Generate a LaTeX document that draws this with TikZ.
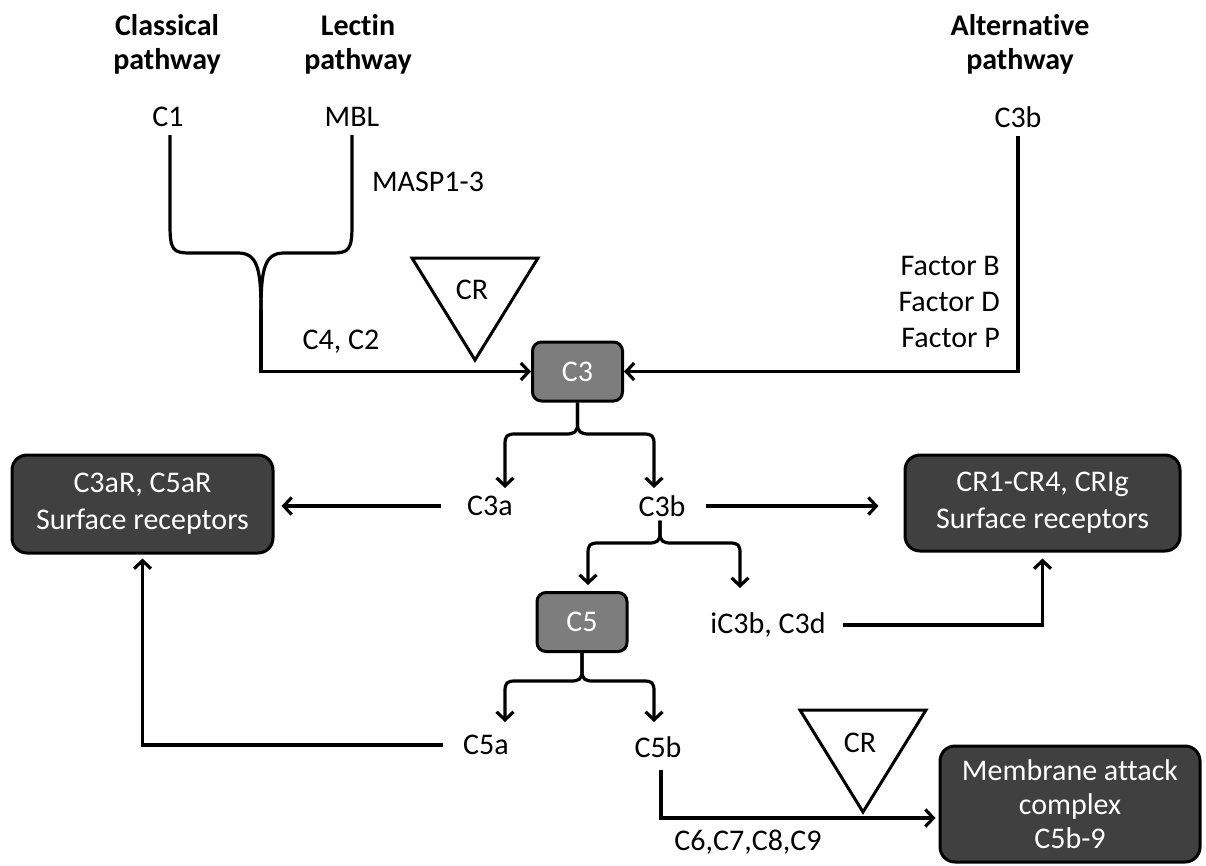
\documentclass[tikz,border=0pt]{standalone}
\usepackage{fontspec}
\setmainfont{Carlito}[Ligatures=NoCommon]
\usetikzlibrary{arrows.meta}
\definecolor{boxgray}{RGB}{125,125,125}
\definecolor{boxdark}{RGB}{64,64,64}
\begin{document}
\begin{tikzpicture}[x=1pt,y=-1pt,
  lbl/.style={font=\fontsize{30}{36}\selectfont, inner sep=0pt, align=center},
  ttl/.style={font=\fontsize{30}{34}\selectfont\bfseries, inner sep=0pt, align=center},
  smallbox/.style={draw=black, line width=3pt, fill=boxgray, rounded corners=9pt,
    minimum width=90pt, minimum height=59pt, text=white, inner sep=0pt,
    font=\fontsize{30}{36}\selectfont},
  bigbox/.style={draw=black, line width=3pt, fill=boxdark, rounded corners=15pt,
    text=white, font=\fontsize{30}{37}\selectfont, align=center, inner sep=0pt},
  conn/.style={line width=3.2pt},
  arr/.style={line width=3.2pt, -{Straight Barb[length=8pt,width=17pt]}},
  crtri/.style={line width=3pt, fill=white, line join=miter},
]
\useasboundingbox (0,0) rectangle (1206,865);

% titles
\node[ttl] (classical) at (167,44) {Classical\\pathway};
\node[ttl] (lectin) at (358,44) {Lectin\\pathway};
\node[ttl] (alternative) at (1020,44) {Alternative\\pathway};

% sources
\node[lbl] (c1) at (168,117) {C1};
\node[lbl] (mbl) at (352,117) {MBL};
\node[lbl] (c3bA) at (1018,117) {C3b};
\node[lbl] (masp) at (428,182) {MASP1-3};
\node[lbl] (c4c2) at (341,342) {C4, C2};
\node[lbl, anchor=east] (fb) at (1000,266) {Factor B};
\node[lbl, anchor=east] (fd) at (1000,302) {Factor D};
\node[lbl, anchor=east] (fp) at (1000,338) {Factor P};

% boxes
\node[smallbox] (c3) at (577.5,371.5) {C3};
\node[smallbox] (c5) at (582,622) {C5};
\node[bigbox, minimum width=261pt, minimum height=98pt] (c3ar) at (142.5,504) {C3aR, C5aR\\Surface receptors};
\node[bigbox, minimum width=275pt, minimum height=96pt] (cr14) at (1042.5,503) {CR1-CR4, CRIg\\Surface receptors};
\node[bigbox, minimum width=260pt, minimum height=116pt] (mac) at (1070,804) {Membrane attack\\[-3pt]complex\\[-3pt]C5b-9};

% labels
\node[lbl] (c3a) at (490,506) {C3a};
\node[lbl] (c3b) at (662,506) {C3b};
\node[lbl] (ic3b) at (768,625) {iC3b, C3d};
\node[lbl] (c5a) at (486,745) {C5a};
\node[lbl] (c5b) at (658,747) {C5b};
\node[lbl] (c6) at (748,842) {C6,C7,C8,C9};

% CR triangles
\draw[crtri] (412,258) -- (538,258) -- (475,360) -- cycle;
\node[lbl] (cr1) at (472,290) {CR};
\draw[crtri] (800,710) -- (926,710) -- (863,812) -- cycle;
\node[lbl] (cr2) at (860,743) {CR};

% brace from C1 and MBL
\coordinate (jn) at (261,310);
\draw[conn] (c1.south -| 170,0) ++(0,8) -- (170,225) .. controls (170,250) and (173,253) .. (190,253)
  -- (238,253) .. controls (257,253) and (261,268) .. (jn);
\draw[conn] (mbl.south -| 352,0) ++(0,8) -- (352,225) .. controls (352,250) and (349,253) .. (332,253)
  -- (284,253) .. controls (265,253) and (261,268) .. (jn);
\draw[arr] (jn) |- (c3.west);

% alternative pathway
\draw[arr] (c3bA.south -| 1018,0) ++(0,8) |- (c3.east);

% C3 split
\coordinate (c3l) at (505,488);
\coordinate (c3r) at (654,488);
\draw[arr] (c3.south) -- (577.5,424) .. controls (577.5,432) and (574,434) .. (566,434)
  -- (515,434) .. controls (507,434) and (505,436) .. (505,444) -- (c3l);
\draw[arr] (c3.south) -- (577.5,424) .. controls (577.5,432) and (581,434) .. (589,434)
  -- (644,434) .. controls (652,434) and (654,436) .. (654,444) -- (c3r);

% C3a, C3b to receptors
\draw[arr, shorten <=26pt, shorten >=7pt] (c3a.west) -- (c3a.west -| c3ar.east);
\draw[arr, shorten <=20pt, shorten >=25pt] (c3b.east) -- (c3b.east -| cr14.west);

% C3b split
\coordinate (c3bl) at (588,585);
\coordinate (c3br) at (740,588);
\draw[arr] (c3b.south) ++(-2,4) -- (660,533) .. controls (660,541) and (657,543) .. (649,543)
  -- (598,543) .. controls (590,543) and (588,545) .. (588,553) -- (c3bl);
\draw[arr] (c3b.south) ++(-2,4) -- (660,533) .. controls (660,541) and (663,543) .. (671,543)
  -- (730,543) .. controls (738,543) and (740,545) .. (740,553) -- (c3br);

% iC3b to CR receptors
\draw[arr, shorten <=17pt, shorten >=6pt] (ic3b.east) -| (cr14.south);

% C5 split
\coordinate (c5l) at (505,722);
\coordinate (c5r) at (654,722);
\draw[arr] (c5.south) -- (582,671) .. controls (582,679) and (579,681) .. (571,681)
  -- (515,681) .. controls (507,681) and (505,683) .. (505,691) -- (c5l);
\draw[arr] (c5.south) -- (582,671) .. controls (582,679) and (585,681) .. (593,681)
  -- (644,681) .. controls (652,681) and (654,683) .. (654,691) -- (c5r);

% C5a to C3aR
\draw[arr, shorten <=20pt, shorten >=4pt] (c5a.west) -| (c3ar.south);

% C5b to MAC
\draw[arr, shorten >=3pt] (c5b.south -| 661,0) ++(0,12) |- ([yshift=-14pt]mac.west);
\end{tikzpicture}
\end{document}
